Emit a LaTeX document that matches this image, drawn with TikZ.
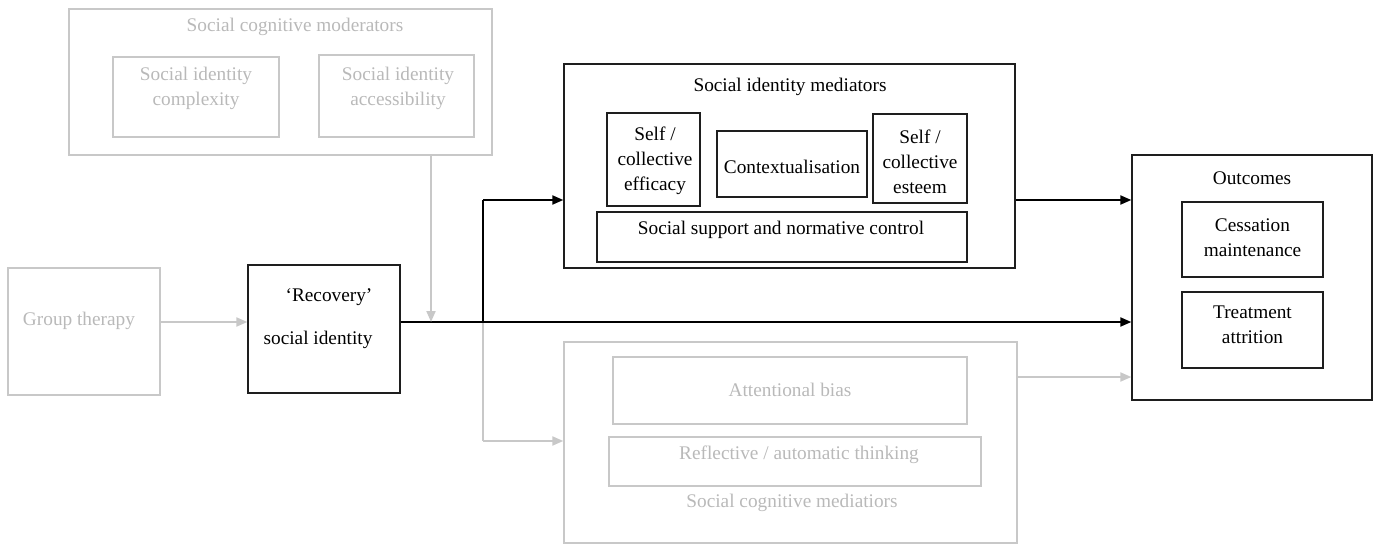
\documentclass[tikz,border=0pt]{standalone}
\usepackage{fontspec}
\setmainfont{Liberation Serif}
\usetikzlibrary{arrows.meta}
\definecolor{lgline}{RGB}{200,200,200}
\definecolor{lgtext}{RGB}{185,185,185}
\definecolor{dkline}{RGB}{30,30,30}
\begin{document}
\begin{tikzpicture}[x=1pt,y=-1pt,
  txt/.style={inner sep=0pt,font=\fontsize{19.3}{25}\selectfont,align=center},
  gtxt/.style={txt,text=lgtext},
  bbox/.style={draw=dkline,line width=1.3pt,inner sep=0pt},
  gbox/.style={draw=lgline,line width=1.3pt,inner sep=0pt},
  barrow/.style={draw=black,line width=2pt,-{Triangle[length=11pt,width=9pt]}},
  garrow/.style={draw=lgline,line width=2pt,-{Triangle[length=11pt,width=9pt]}},
  bline/.style={draw=black,line width=2pt},
  gline/.style={draw=lgline,line width=2pt}]
\useasboundingbox (0,0) rectangle (1373,545);
% moderators
\node[gbox,minimum width=423pt,minimum height=146pt] (mod) at (280.5,82) {};
\node[gtxt] (modt) at (295,27) {Social cognitive moderators};
\node[gbox,minimum width=166pt,minimum height=80pt] (comp) at (196,97) {};
\node[gtxt] (compt) at (196,88) {Social identity\\complexity};
\node[gbox,minimum width=155pt,minimum height=82pt] (acc) at (396.5,96) {};
\node[gtxt] (acct) at (398,88) {Social identity\\accessibility};
% group therapy and recovery
\node[gbox,minimum width=152pt,minimum height=127pt] (gt) at (84,331.5) {};
\node[gtxt] (gtt) at (79,321) {Group therapy};
\node[bbox,minimum width=152pt,minimum height=128pt] (rec) at (324,329) {};
\node[txt] (rect1) at (329,297) {`Recovery'};
\node[txt] (rect2) at (318,340) {social identity};
% social identity mediators
\node[bbox,minimum width=451pt,minimum height=204pt] (simed) at (789.5,166) {};
\node[txt] (simedt) at (790,87) {Social identity mediators};
\node[bbox,minimum width=93pt,minimum height=93pt] (eff) at (653.5,159.5) {};
\node[txt] (efft) at (655,160.5) {Self /\\collective\\efficacy};
\node[bbox,minimum width=150pt,minimum height=66pt] (ctx) at (792,164) {};
\node[txt] (ctxt) at (792,167) {Contextualisation};
\node[bbox,minimum width=94pt,minimum height=89pt] (est) at (920,158.5) {};
\node[txt] (estt) at (920,162) {Self /\\collective\\esteem};
\node[bbox,minimum width=370pt,minimum height=50pt] (sup) at (782,237) {};
\node[txt] (supt) at (781,230) {Social support and normative control};
% outcomes
\node[bbox,minimum width=240pt,minimum height=245pt] (out) at (1252,277.5) {};
\node[txt] (outt) at (1252,178) {Outcomes};
\node[bbox,minimum width=141pt,minimum height=75pt] (ces) at (1252.5,239.5) {};
\node[txt] (cest) at (1252.5,237.5) {Cessation\\maintenance};
\node[bbox,minimum width=141pt,minimum height=76pt] (tre) at (1252.5,330) {};
\node[txt] (tret) at (1252.5,325) {Treatment\\attrition};
% social cognitive mediators
\node[gbox,minimum width=453pt,minimum height=201pt] (scmed) at (790.5,442.5) {};
\node[gbox,minimum width=354pt,minimum height=67pt] (att) at (790,390.5) {};
\node[gtxt] (attt) at (790,390) {Attentional bias};
\node[gbox,minimum width=372pt,minimum height=49pt] (ref) at (795,461.5) {};
\node[gtxt] (reft) at (799,455) {Reflective / automatic thinking};
\node[gtxt] (scmedt) at (792,503) {Social cognitive mediatiors};
% connectors
\coordinate (m1) at (431,322);
\coordinate (j1) at (483,322);
\coordinate (b1) at (483,200);
\coordinate (b2) at (483,441);
\coordinate (c3) at (1075,377);
\draw[garrow] (gt.east |- m1) -- (rec.west |- m1);
\draw[gline] (j1) -- (b2);
\draw[garrow] (b2) -- (scmed.west |- b2);
\draw[garrow] (scmed.east |- c3) -- (out.west |- c3);
\draw[barrow] (rec.east |- m1) -- (out.west |- m1);
\draw[garrow] (mod.south -| m1) -- (m1);
\draw[bline] (j1) -- (b1);
\draw[barrow] (b1) -- (simed.west |- b1);
\draw[barrow] (simed.east |- b1) -- (out.west |- b1);
\end{tikzpicture}
\end{document}
